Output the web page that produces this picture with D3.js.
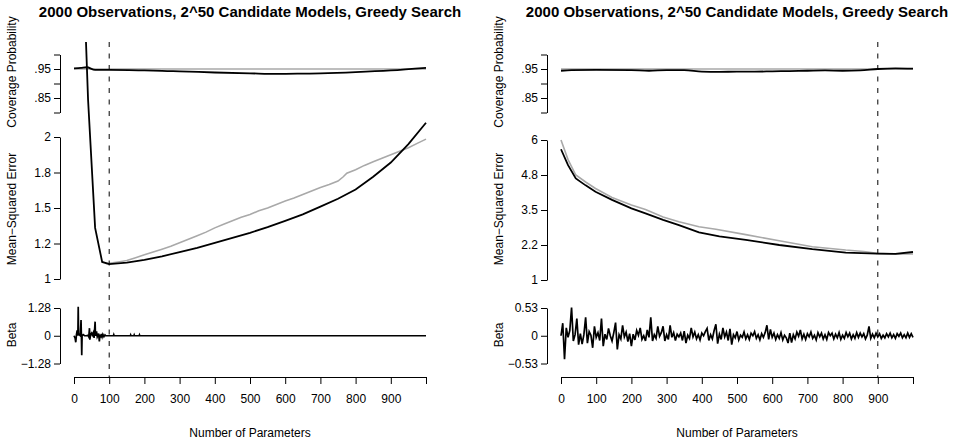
<!DOCTYPE html>
<html>
<head>
<meta charset="utf-8">
<script src="https://cdn.jsdelivr.net/npm/d3@7.9.0/dist/d3.min.js"></script>
<style>
  body { margin: 0; background: #fff; }
  svg { font-family: "Liberation Sans", Arial, sans-serif; }
</style>
</head>
<body>
<svg id="chart" width="959" height="443"></svg>
<script>
// ---- data ----
const titleText = '2000 Observations, 2^50 Candidate Models, Greedy Search';
const xTicks = [0, 100, 200, 300, 400, 500, 600, 700, 800, 900, 1000];
const xTickLabels = ['0', '100', '200', '300', '400', '500', '600', '700', '800', '900', ''];

const covTicks = [0.8, 0.85, 0.9, 0.95, 1.0];
const covTickLabels = ['', '.85', '', '.95', ''];

// left panel (selected at 100 parameters)
const leftCovN = [0, 20, 36, 60, 100, 200, 265, 300, 400, 500, 578, 650, 700, 800, 900, 1000];
const leftCovV = [0.952, 0.954, 0.956, 0.947, 0.947, 0.945, 0.943, 0.942, 0.938, 0.935, 0.933, 0.934, 0.935, 0.939, 0.945, 0.954];

const leftMseTicks = [1, 1.25, 1.5, 1.75, 2];
const leftMseTickLabels = ['1', '1.2', '1.5', '1.8', '2'];
const leftMseN = [0, 20, 40, 60, 80, 100, 150, 200, 250, 300, 350, 400, 450, 500, 550, 600, 650, 700, 750, 800, 850, 900, 950, 1000];
const leftMseV = [6, 3.64, 2.26, 1.36, 1.12, 1.105, 1.115, 1.135, 1.16, 1.19, 1.22, 1.255, 1.29, 1.325, 1.365, 1.41, 1.455, 1.51, 1.565, 1.63, 1.72, 1.82, 1.95, 2.10];
const leftTestN = [90, 100, 125, 138, 150, 175, 200, 225, 250, 275, 300, 325, 350, 375, 400, 425, 450, 475, 500, 525, 550, 575, 600, 625, 650, 675, 700, 725, 750, 765, 775, 800, 825, 850, 875, 900, 925, 950, 975, 1000];
const leftTestV = [1.11, 1.11, 1.12, 1.125, 1.13, 1.15, 1.17, 1.19, 1.21, 1.23, 1.255, 1.28, 1.305, 1.33, 1.36, 1.385, 1.41, 1.435, 1.455, 1.48, 1.50, 1.525, 1.55, 1.57, 1.595, 1.62, 1.645, 1.665, 1.69, 1.72, 1.745, 1.77, 1.80, 1.825, 1.85, 1.875, 1.90, 1.925, 1.955, 1.985];

const leftBetaMax = 1.28;
const leftBetaN = [0, 3, 5, 7, 9, 11, 12, 13, 15, 18, 20, 21, 22, 23, 26, 30, 35, 40, 42, 44, 45, 47, 50, 52, 55, 57, 60, 61, 64, 66, 70, 72, 74, 76, 78, 80, 82, 85, 88, 90, 112, 113, 114, 160, 161, 162, 170, 171, 172, 185, 186, 187, 1000];
const leftBetaV = [0, -0.1, -0.3, 0.05, 0.25, 0, 1.34, 0.1, 0.05, 0, 0.73, 0, -0.9, 0, 0.05, 0, 0, 0.02, -0.05, 0.35, -0.18, 0.05, 0.12, 0.03, 0.15, -0.1, 0.65, 0, 0.2, -0.05, 0.1, -0.26, 0.05, -0.08, 0.08, -0.05, 0.06, -0.04, 0.04, 0, 0, 0.05, 0, 0, 0.04, 0, 0, 0.04, 0, 0, 0.04, 0, 0];

// right panel (selected at 900 parameters)
const rightCovN = [0, 30, 100, 200, 250, 300, 350, 400, 450, 500, 550, 600, 650, 700, 750, 800, 850, 900, 950, 1000];
const rightCovV = [0.944, 0.946, 0.947, 0.946, 0.944, 0.946, 0.946, 0.941, 0.940, 0.941, 0.941, 0.942, 0.943, 0.944, 0.945, 0.944, 0.945, 0.950, 0.952, 0.951];

const rightMseTicks = [1, 2.25, 3.5, 4.75, 6];
const rightMseTickLabels = ['1', '2.2', '3.5', '4.8', '6'];
const rightMseN = [0, 20, 42, 70, 98, 145, 200, 240, 290, 335, 392, 450, 525, 620, 714, 809, 898, 950, 1000];
const rightMseV = [5.67, 5.1, 4.63, 4.38, 4.15, 3.86, 3.56, 3.38, 3.15, 2.96, 2.70, 2.56, 2.43, 2.25, 2.10, 1.98, 1.94, 1.93, 2.0];
const rightTestN = [0, 20, 42, 70, 98, 145, 200, 240, 290, 335, 392, 440, 525, 620, 714, 809, 860, 898, 950, 1000];
const rightTestV = [6.0, 5.3, 4.75, 4.5, 4.27, 3.95, 3.68, 3.52, 3.25, 3.08, 2.90, 2.81, 2.62, 2.40, 2.19, 2.07, 2.02, 1.95, 1.93, 1.93];

const rightBetaMax = 0.53;
const rightBetaStep = 5; // one value every 5 parameters, starting at 0
const rightBetaV = [
  0, 0.24, -0.45, 0.15, -0.03, 0.1, 0.54, -0.1, 0.02, 0.33,
  -0.17, 0.04, -0.16, 0.02, 0.35, -0.14, 0.08, 0.01, -0.23, 0.18,
  -0.03, 0.06, -0.09, 0.33, -0.2, 0.03, -0.07, 0.14, 0.0, -0.1,
  0.06, 0.25, -0.26, 0.02, -0.06, 0.2, -0.02, 0.07, -0.11, 0.04,
  -0.2, 0.03, -0.08, 0.1, 0.01, 0.15, -0.07, 0.0, -0.1, 0.11,
  -0.03, 0.35, -0.1, 0.02, -0.05, 0.18, -0.01, 0.06, 0.18, -0.1,
  0.02, -0.07, 0.2, -0.03, 0.06, -0.09, 0.03, -0.02, 0.05, -0.09,
  0.09, -0.14, 0.01, -0.05, 0.15, -0.02, 0.07, -0.06, 0.02, -0.08,
  0.05, 0.0, 0.08, 0.14, -0.09, 0.02, -0.06, 0.1, 0.22, -0.15,
  0.03, -0.07, 0.15, -0.02, 0.07, -0.09, 0.13, -0.17, 0.02, -0.04,
  0.08, -0.08, 0.01, -0.03, 0.07, -0.06, 0.02, -0.07, 0.05, 0.0,
  0.08, -0.05, 0.02, -0.08, 0.04, -0.03, 0.06, 0.2, -0.07, 0.12,
  -0.03, 0.05, -0.07, 0.02, -0.05, 0.06, -0.08, 0.01, -0.04, -0.14,
  0.05, -0.13, 0.02, -0.06, 0.07, -0.01, 0.11, -0.06, 0.03, -0.07,
  0.04, -0.02, 0.07, -0.05, 0.01, -0.08, 0.06, -0.02, 0.05, -0.06,
  0.02, -0.07, 0.06, 0.0, 0.05, -0.06, 0.03, -0.04, 0.06, -0.07,
  0.01, -0.05, 0.06, -0.02, 0.05, -0.06, 0.02, -0.05, 0.06, -0.03,
  0.05, -0.02, 0.04, -0.06, 0.01, 0.18, -0.05, 0.03, -0.04, 0.05,
  -0.02, 0.04, -0.05, 0.01, -0.04, 0.04, -0.02, 0.05, -0.04, 0.02,
  -0.05, 0.04, -0.01, 0.05, -0.04, 0.02, -0.04, 0.05, -0.03, 0.04,
  -0.03
];

const panels = [
  {
    dx: 0, cut: 100,
    covN: leftCovN, covV: leftCovV,
    mseTop: 137, mseBottom: 279, mseTicks: leftMseTicks, mseLabels: leftMseTickLabels,
    mseN: leftMseN, mseV: leftMseV, testN: leftTestN, testV: leftTestV,
    betaMax: leftBetaMax, betaN: leftBetaN, betaV: leftBetaV
  },
  {
    dx: 487, cut: 900,
    covN: rightCovN, covV: rightCovV,
    mseTop: 140, mseBottom: 280, mseTicks: rightMseTicks, mseLabels: rightMseTickLabels,
    mseN: rightMseN, mseV: rightMseV, testN: rightTestN, testV: rightTestV,
    betaMax: rightBetaMax, betaN: rightBetaV.map((v, i) => i * rightBetaStep), betaV: rightBetaV
  }
];

const svg = d3.select('#chart');
const grey = '#a9a9a9';

function zip(ns, vs) {
  return ns.map((n, i) => [n, vs[i]]);
}

function styleAxis(g) {
  g.selectAll('path.domain').attr('stroke', '#000').attr('stroke-width', 1);
  g.selectAll('.tick line').attr('stroke', '#000').attr('stroke-width', 1);
  g.selectAll('.tick text').attr('fill', '#000').style('font-size', '12px')
    .style('font-family', '"Liberation Sans", Arial, sans-serif');
}

panels.forEach((p, k) => {
  const g = svg.append('g').attr('transform', `translate(${p.dx},0)`);

  const x = d3.scaleLinear().domain([0, 1000]).range([74, 426]);
  const yCov = d3.scaleLinear().domain([0.8, 1.0]).range([112.5, 54.5]);
  const yMse = d3.scaleLinear().domain([p.mseTicks[0], p.mseTicks[4]]).range([p.mseBottom, p.mseTop]);
  const yBeta = d3.scaleLinear().domain([-p.betaMax, p.betaMax]).range([363.5, 308]);

  // plotting region clip
  const clipId = 'clip' + k;
  g.append('clipPath').attr('id', clipId)
    .append('rect').attr('x', 60).attr('y', 42).attr('width', 380).attr('height', 335);
  const plot = g.append('g').attr('clip-path', `url(#${clipId})`);

  // coverage panel
  plot.append('line')
    .attr('x1', x(0)).attr('x2', x(1000))
    .attr('y1', yCov(0.95)).attr('y2', yCov(0.95))
    .attr('stroke', grey).attr('stroke-width', 1.5);
  plot.append('path')
    .datum(zip(p.covN, p.covV))
    .attr('d', d3.line().curve(d3.curveMonotoneX).x(d => x(d[0])).y(d => yCov(d[1])))
    .attr('fill', 'none').attr('stroke', '#000').attr('stroke-width', 1.8);

  // MSE panel
  plot.append('path')
    .datum(zip(p.testN, p.testV))
    .attr('d', d3.line().x(d => x(d[0])).y(d => yMse(d[1])))
    .attr('fill', 'none').attr('stroke', grey).attr('stroke-width', 1.6);
  plot.append('path')
    .datum(zip(p.mseN, p.mseV))
    .attr('d', d3.line().x(d => x(d[0])).y(d => yMse(d[1])))
    .attr('fill', 'none').attr('stroke', '#000').attr('stroke-width', 1.8);

  // beta panel
  plot.append('path')
    .datum(zip(p.betaN, p.betaV))
    .attr('d', d3.line().x(d => x(d[0])).y(d => yBeta(d[1])))
    .attr('fill', 'none').attr('stroke', '#000').attr('stroke-width', 1.7);

  // chosen model size
  plot.append('line')
    .attr('x1', x(p.cut)).attr('x2', x(p.cut))
    .attr('y1', 42).attr('y2', 377)
    .attr('stroke', '#000').attr('stroke-width', 1)
    .attr('stroke-dasharray', '5,6.5');

  // axes
  const covAxis = g.append('g').attr('transform', 'translate(60,0)')
    .call(d3.axisLeft(yCov).tickValues(covTicks)
      .tickFormat((d, i) => covTickLabels[i]).tickSize(6).tickSizeOuter(0).tickPadding(3));
  styleAxis(covAxis);

  const mseAxis = g.append('g').attr('transform', 'translate(60,0)')
    .call(d3.axisLeft(yMse).tickValues(p.mseTicks)
      .tickFormat((d, i) => p.mseLabels[i]).tickSize(6).tickSizeOuter(0).tickPadding(3));
  styleAxis(mseAxis);

  const betaLabels = ['\u2212' + p.betaMax, '0', String(p.betaMax)];
  const betaAxis = g.append('g').attr('transform', 'translate(60,0)')
    .call(d3.axisLeft(yBeta).tickValues([-p.betaMax, 0, p.betaMax])
      .tickFormat((d, i) => betaLabels[i]).tickSize(6).tickSizeOuter(0).tickPadding(3));
  styleAxis(betaAxis);

  const xAxis = g.append('g').attr('transform', 'translate(0,377)')
    .call(d3.axisBottom(x).tickValues(xTicks)
      .tickFormat((d, i) => xTickLabels[i]).tickSize(7).tickSizeOuter(0).tickPadding(10));
  styleAxis(xAxis);

  // titles
  g.append('text')
    .attr('x', 250).attr('y', 17)
    .attr('text-anchor', 'middle')
    .style('font-size', '15px').style('font-weight', 'bold')
    .text(titleText);

  g.append('text')
    .attr('x', 250).attr('y', 437)
    .attr('text-anchor', 'middle')
    .style('font-size', '12px')
    .text('Number of Parameters');

  [['Coverage Probability', 72], ['Mean\u2212Squared Error', 209], ['Beta', 335]].forEach(([t, cy]) => {
    g.append('text')
      .attr('transform', `translate(16,${cy}) rotate(-90)`)
      .attr('text-anchor', 'middle')
      .style('font-size', '12px')
      .text(t);
  });
});
</script>
</body>
</html>
